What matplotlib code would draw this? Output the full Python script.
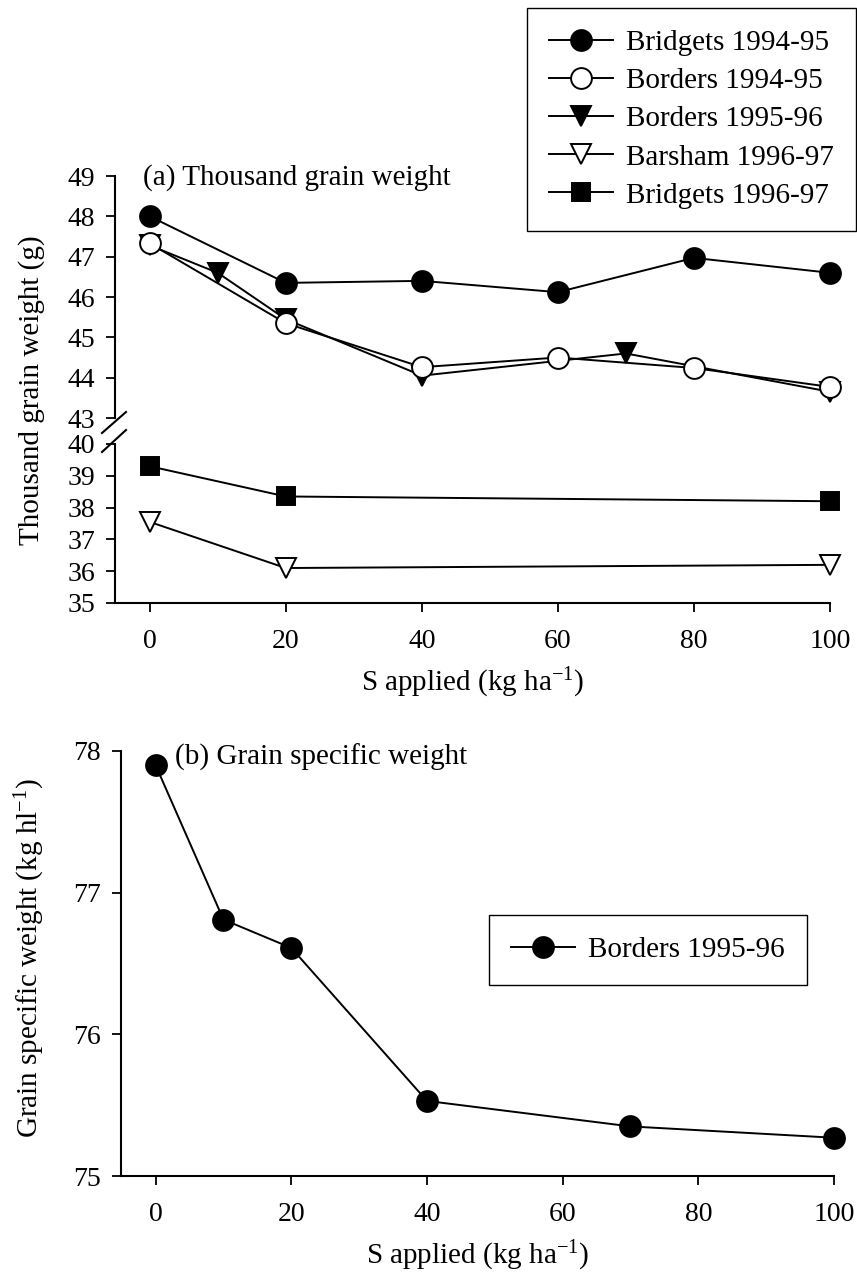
"""Sulphur response of grain weight: (a) thousand grain weight on a broken axis,
(b) grain specific weight."""
import matplotlib
matplotlib.use("Agg")
import matplotlib.pyplot as plt
from matplotlib.lines import Line2D

W, H = 857, 1274

S_TICKS = [0, 20, 40, 60, 80, 100]

# (a) thousand grain weight (g)
S_BRIDGETS_9495 = [0, 20, 40, 60, 80, 100]
TGW_BRIDGETS_9495 = [48.0, 46.35, 46.4, 46.12, 46.97, 46.6]
S_BORDERS_9495 = [0, 20, 40, 60, 80, 100]
TGW_BORDERS_9495 = [47.33, 45.35, 44.26, 44.5, 44.24, 43.77]
S_BORDERS_9596 = [0, 10, 20, 40, 70, 100]
TGW_BORDERS_9596 = [47.28, 46.6, 45.45, 44.05, 44.6, 43.65]
S_BARSHAM_9697 = [0, 20, 100]
TGW_BARSHAM_9697 = [37.55, 36.1, 36.2]
S_BRIDGETS_9697 = [0, 20, 100]
TGW_BRIDGETS_9697 = [39.3, 38.35, 38.2]

# (b) grain specific weight (kg/hl)
S_GSW = [0, 10, 20, 40, 70, 100]
GSW_BORDERS_9596 = [77.9, 76.81, 76.61, 75.53, 75.35, 75.27]

HI_TICKS = [43, 44, 45, 46, 47, 48, 49]
LO_TICKS = [35, 36, 37, 38, 39, 40]
GSW_TICKS = [75, 76, 77, 78]

XLIM = (-5.1, 100)
TICK_FS = 20
TEXT_FS = 21
LW = 1.4
LEGEND_KW = dict(fontsize=TEXT_FS, frameon=True, fancybox=False, edgecolor="black",
                 framealpha=1, borderpad=0.75, handlelength=2.2, handletextpad=0.45,
                 borderaxespad=0)


def px_box(x0, y0, x1, y1):
    """pixel box (top-left origin) -> figure fraction [left, bottom, width, height]"""
    return [x0 / W, 1 - y1 / H, (x1 - x0) / W, (y1 - y0) / H]


def style_axis(ax, show_x):
    for side in ("top", "right"):
        ax.spines[side].set_visible(False)
    ax.spines["left"].set_linewidth(1.5)
    ax.spines["bottom"].set_linewidth(1.5)
    ax.tick_params(axis="y", direction="out", length=6.5, width=1.3, pad=8,
                   labelsize=TICK_FS)
    if show_x:
        ax.set_xticks(S_TICKS)
        ax.tick_params(axis="x", direction="out", length=6.5, width=1.3, pad=12,
                       labelsize=TICK_FS)
    else:
        ax.spines["bottom"].set_visible(False)
        ax.set_xticks([])
    ax.set_xlim(*XLIM)


def line(ax, x, y, marker, filled, ms, label):
    ax.plot(x, y, color="black", lw=LW, marker=marker, ms=ms,
            mfc="black" if filled else "white", mec="black", mew=1.4,
            label=label, clip_on=False)


def build():
    plt.rcParams["font.family"] = ["Liberation Serif", "DejaVu Serif"]
    plt.rcParams["mathtext.fontset"] = "custom"
    plt.rcParams["mathtext.rm"] = "Liberation Serif"
    plt.rcParams["mathtext.it"] = "Liberation Serif:italic"

    fig = plt.figure(figsize=(W / 100, H / 100), dpi=100)

    # ---- (a) upper segment 43-49, lower segment 35-40 ----
    ax_hi = fig.add_axes(px_box(115, 176, 830, 418))
    ax_lo = fig.add_axes(px_box(115, 444, 830, 603))
    style_axis(ax_hi, show_x=False)
    style_axis(ax_lo, show_x=True)

    line(ax_hi, S_BORDERS_9596, TGW_BORDERS_9596, "v", True, 14, "Borders 1995-96")
    line(ax_hi, S_BORDERS_9495, TGW_BORDERS_9495, "o", False, 15, "Borders 1994-95")
    line(ax_hi, S_BRIDGETS_9495, TGW_BRIDGETS_9495, "o", True, 15, "Bridgets 1994-95")
    line(ax_lo, S_BARSHAM_9697, TGW_BARSHAM_9697, "v", False, 14, "Barsham 1996-97")
    line(ax_lo, S_BRIDGETS_9697, TGW_BRIDGETS_9697, "s", True, 13, "Bridgets 1996-97")

    ax_hi.set_ylim(43, 49)
    ax_hi.set_yticks(HI_TICKS)
    ax_lo.set_ylim(35, 40)
    ax_lo.set_yticks(LO_TICKS)
    ax_lo.set_xlabel("S applied (kg ha$^{-1}$)", fontsize=TEXT_FS, labelpad=9)

    fig.text(143 / W, 1 - 178 / H, "(a) Thousand grain weight",
             fontsize=TEXT_FS, ha="left", va="center")
    fig.text(32 / W, 1 - 390 / H, "Thousand grain weight (g)", rotation=90,
             fontsize=TEXT_FS, ha="center", va="center")

    # axis break slashes
    for y0, y1 in ((433, 412), (452, 430)):
        fig.add_artist(Line2D([102 / W, 126 / W], [1 - y0 / H, 1 - y1 / H],
                              color="black", lw=1.5, transform=fig.transFigure))

    handles = {}
    for ax in (ax_hi, ax_lo):
        for h in ax.get_lines():
            handles[h.get_label()] = h
    order = ["Bridgets 1994-95", "Borders 1994-95", "Borders 1995-96",
             "Barsham 1996-97", "Bridgets 1996-97"]
    leg = fig.legend([handles[k] for k in order], order, loc="upper left",
                     bbox_to_anchor=(527 / W, 1 - 8 / H), bbox_transform=fig.transFigure,
                     labelspacing=0.4, **LEGEND_KW)
    leg.get_frame().set_linewidth(1.0)

    # ---- (b) grain specific weight ----
    ax_b = fig.add_axes(px_box(121, 751, 834, 1176))
    style_axis(ax_b, show_x=True)
    line(ax_b, S_GSW, GSW_BORDERS_9596, "o", True, 15, "Borders 1995-96")
    ax_b.set_ylim(75, 78)
    ax_b.set_yticks(GSW_TICKS)
    ax_b.set_xlabel("S applied (kg ha$^{-1}$)", fontsize=TEXT_FS, labelpad=9)
    fig.text(175 / W, 1 - 757 / H, "(b) Grain specific weight",
             fontsize=TEXT_FS, ha="left", va="center")
    fig.text(30 / W, 1 - 958 / H, "Grain specific weight (kg hl$^{-1}$)", rotation=90,
             fontsize=TEXT_FS, ha="center", va="center")
    leg_b = ax_b.legend(loc="upper left", bbox_to_anchor=(489 / W, 1 - 915 / H),
                        bbox_transform=fig.transFigure, **LEGEND_KW)
    leg_b.get_frame().set_linewidth(1.0)

    fig.savefig("out.png", dpi=100)
    plt.close(fig)


if __name__ == "__main__":
    build()
